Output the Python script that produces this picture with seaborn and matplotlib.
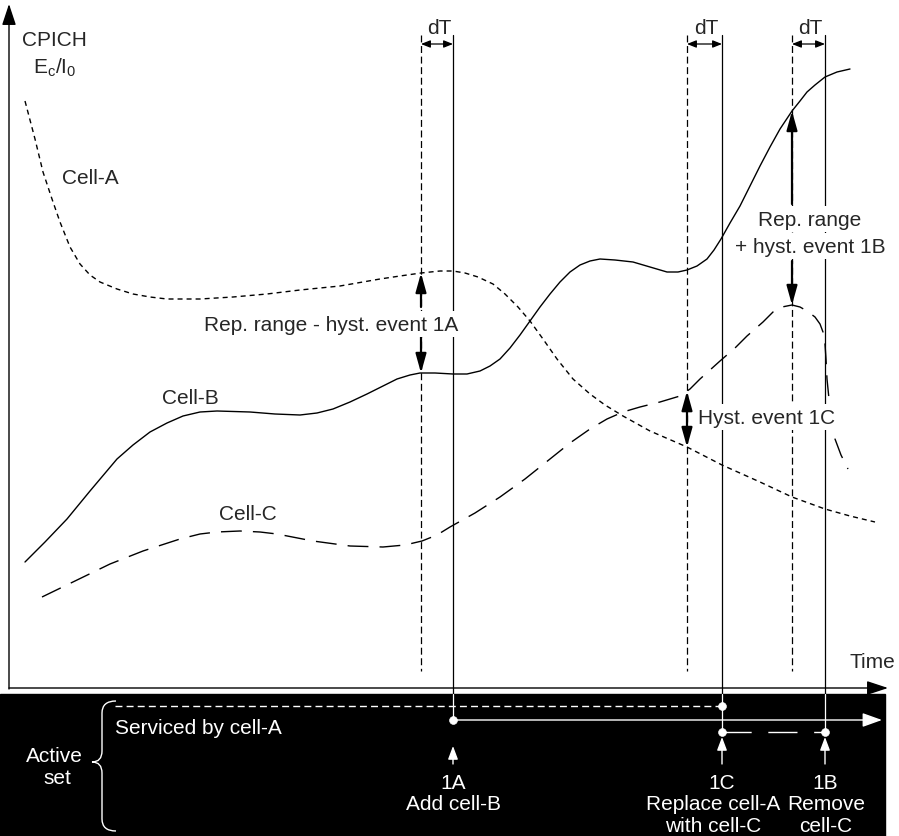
import numpy as np
import matplotlib
matplotlib.use('Agg')
import matplotlib.pyplot as plt
from matplotlib.patches import Rectangle, PathPatch
from matplotlib.path import Path
import seaborn as sns

# curve samples (picture pixels, y grows downwards)
cell_a_x = [25, 35, 43, 52, 60, 70, 80, 90, 100, 117, 133, 150, 167, 200, 233, 267, 300, 340,
            380, 400, 421, 440, 453, 465, 478, 493, 505, 518, 530, 543, 557, 573, 590, 605,
            623, 650, 687, 722, 760, 792, 825, 850, 875]
cell_a_y = [102, 140, 173, 200, 223, 248, 265, 276, 283, 290, 295, 298, 300, 300, 298, 295, 291,
            287, 280, 277, 274, 272, 272, 274, 278, 285, 295, 308, 322, 340, 360, 380, 395,
            406, 417, 432, 448, 466, 483, 498, 510, 517, 523]

cell_b_x = [25, 45, 67, 90, 117, 133, 150, 167, 183, 200, 217, 250, 275, 300, 317, 333, 350,
            367, 383, 397, 410, 420, 435, 453, 467, 480, 490, 500, 510, 520, 530, 540, 550,
            560, 570, 580, 590, 600, 615, 633, 650, 667, 678, 687, 697, 707, 714, 721, 730,
            740, 750, 760, 770, 780, 792, 800, 807, 815, 825, 837, 850]
cell_b_y = [563, 543, 520, 492, 460, 446, 433, 424, 417, 413, 412, 413, 415, 416, 414, 410, 403,
            395, 387, 380, 376, 374, 374, 375, 375, 372, 367, 360, 349, 336, 322, 308, 295,
            283, 273, 266, 262, 260, 261, 263, 268, 273, 273, 271, 267, 260, 251, 240, 224,
            207, 187, 167, 148, 130, 112, 102, 93, 86, 78, 73, 70]

cell_c_x = [42, 75, 110, 143, 180, 200, 217, 240, 260, 277, 313, 350, 383, 405, 422, 437, 450,
            475, 500, 525, 550, 570, 590, 607, 623, 640, 660, 680, 690, 700, 720, 735, 747,
            763, 773, 782, 792, 800, 807, 815, 820, 823, 825, 826, 827, 829, 831, 835, 841,
            848]
cell_c_y = [598, 582, 565, 552, 540, 535, 533, 532, 533, 535, 542, 547, 548, 546, 542, 536, 528,
            514, 498, 480, 460, 444, 430, 420, 413, 408, 403, 397, 390, 380, 362, 349, 337,
            323, 313, 308, 306, 308, 312, 318, 325, 333, 345, 360, 380, 400, 420, 440, 456,
            470]

# events: condition met (dashed) and reported after dT (solid)
events = ['1A', '1C', '1B']
trigger_x = [421, 687, 792]
report_x = [453, 722, 825]
event_lines = [['1A', 'Add cell-B'],
               ['1C', 'Replace cell-A', 'with cell-C'],
               ['1B', 'Remove', 'cell-C']]
event_text_x = [453, 713, 826]

W, H = 899, 837
sns.set_theme(style='white')
plt.rcParams['font.family'] = ['Liberation Sans', 'DejaVu Sans']
plt.rcParams['mathtext.fontset'] = 'custom'
plt.rcParams['mathtext.rm'] = 'Liberation Sans'
plt.rcParams['lines.scale_dashes'] = False

fig = plt.figure(figsize=(W / 100, H / 100), dpi=100)
ax = fig.add_axes([0, 0, 1, 1])
ax.set_xlim(0, W)
ax.set_ylim(H, 0)
ax.axis('off')
fs = 15

# the three cells
sns.lineplot(x=cell_a_x, y=cell_a_y, ax=ax, color='black', lw=1.0, sort=False, estimator=None)
ax.lines[-1].set_dashes((3.6, 2.9))
sns.lineplot(x=cell_b_x, y=cell_b_y, ax=ax, color='black', lw=1.0, sort=False, estimator=None)
sns.lineplot(x=cell_c_x, y=cell_c_y, ax=ax, color='black', lw=1.0, sort=False, estimator=None)
ax.lines[-1].set_dashes((15, 8))

ax.text(90, 178, 'Cell-A', fontsize=fs, ha='center', va='center')
ax.text(190, 398, 'Cell-B', fontsize=fs, ha='center', va='center')
ax.text(248, 515, 'Cell-C', fontsize=fs, ha='center', va='center')


def arrow(xy, xytext, color='black', lw=1.0, hl=1.3, hw=0.43, style='-|>', z=3):
    ax.annotate('', xy=xy, xytext=xytext, zorder=z,
                arrowprops=dict(arrowstyle=f'{style},head_length={hl},head_width={hw}',
                                color=color, lw=lw, shrinkA=0, shrinkB=0, mutation_scale=10))


# axes
axis_y = 689
arrow((9, 5), (9, axis_y + 1))
arrow((888, axis_y), (9, axis_y))
ax.text(54, 40, 'CPICH', fontsize=fs, ha='center', va='center')
ax.text(55, 68, r'E$_\mathrm{c}$/I$_\mathrm{0}$', fontsize=fs, ha='center', va='center')
ax.text(872, 663, 'Time', fontsize=fs, ha='center', va='center')

# black "active set" strip
box_top = 695
ax.add_patch(Rectangle((0, box_top), 885, H - box_top, color='black', zorder=1))

# dashed and solid event lines with dT markers
for tx, rx in zip(trigger_x, report_x):
    ax.plot([tx, tx], [36, 672], color='black', lw=0.9, dashes=(5, 2.6), zorder=2)
    ax.plot([rx, rx], [36, box_top], color='black', lw=0.9, zorder=2)
    arrow((rx, 45), (tx, 45), lw=0.9, hl=0.55, hw=0.22, style='<|-|>')
    ax.text((tx + rx) / 2 + 2, 28, 'dT', fontsize=fs, ha='center', va='center')

# hysteresis arrows between curves
ya = lambda x: np.interp(x, cell_a_x, cell_a_y)
yb = lambda x: np.interp(x, cell_b_x, cell_b_y)
yc = lambda x: np.interp(x, cell_c_x, cell_c_y)
x1a, x1c, x1b = trigger_x
arrow((x1a, ya(x1a)), (x1a, 308), lw=1.6, hl=1.15, hw=0.32)
arrow((x1a, yb(x1a)), (x1a, 338), lw=1.6, hl=1.15, hw=0.32)
arrow((x1c, yc(x1c)), (x1c, ya(x1c)), lw=1.6, hl=1.15, hw=0.32, style='<|-|>')
arrow((x1b, yb(x1b)), (x1b, 205), lw=1.6, hl=1.15, hw=0.32)
arrow((x1b, yc(x1b)), (x1b, 262), lw=1.6, hl=1.15, hw=0.32)

bb = dict(facecolor='white', edgecolor='none', pad=2.5)
ax.text(458, 325, 'Rep. range - hyst. event 1A', fontsize=fs, ha='right', va='center',
        bbox=bb, zorder=4)
ax.text(698, 418, 'Hyst. event 1C', fontsize=fs, ha='left', va='center', bbox=bb, zorder=4)
ax.text(810, 247, '+ hyst. event 1B', fontsize=fs, ha='center', va='center', bbox=bb, zorder=4)
ax.text(810, 220, 'Rep. range', fontsize=fs, ha='center', va='center', bbox=bb, zorder=4)

# active set timeline
row_a, row_b, row_c = 707, 721, 733
ax.plot([115, report_x[1]], [row_a, row_a], color='white', lw=1.0, dashes=(5, 3), zorder=2)
arrow((882, row_b), (report_x[0], row_b), color='white', lw=1.0, hl=1.2, hw=0.43)
ax.plot([report_x[1], report_x[2]], [row_c, row_c], color='white', lw=1.0, dashes=(21, 12),
        zorder=2)
ends = [row_b, row_c, row_c]
for rx, yend in zip(report_x, ends):
    ax.plot([rx, rx], [box_top, yend], color='white', lw=0.9, zorder=2)
    arrow((rx, 738 if yend == row_c else 747), (rx, 765), color='white', lw=1.0,
          hl=0.8, hw=0.3)
line_y = [784, 805, 827]
for tx, rx, lines in zip(event_text_x, report_x, event_lines):
    for i, (ly, s) in enumerate(zip(line_y, lines)):
        ax.text(rx if i == 0 else tx, ly, s, fontsize=fs, color='white', ha='center',
                va='center')
dots_x = [report_x[0], report_x[1], report_x[1], report_x[2]]
dots_y = [row_b, row_a, row_c, row_c]
sns.scatterplot(x=dots_x, y=dots_y, ax=ax, color='white', s=32, edgecolor='white', zorder=5)

ax.text(115, 728, 'Serviced by cell-A', fontsize=fs, color='white', ha='left', va='center')
ax.text(54, 756, 'Active', fontsize=fs, color='white', ha='center', va='center')
ax.text(57, 779, 'set', fontsize=fs, color='white', ha='center', va='center')

# curly brace
brace = Path([(116, 702), (102, 702), (102, 714), (102, 752), (102, 763), (92, 763),
              (102, 763), (102, 774), (102, 820), (102, 832), (116, 832)],
             [Path.MOVETO, Path.CURVE3, Path.CURVE3, Path.LINETO, Path.CURVE3, Path.CURVE3,
              Path.CURVE3, Path.CURVE3, Path.LINETO, Path.CURVE3, Path.CURVE3])
ax.add_patch(PathPatch(brace, facecolor='none', edgecolor='white', lw=1.0, zorder=3))

fig.savefig('out.png', dpi=100, facecolor='white')
